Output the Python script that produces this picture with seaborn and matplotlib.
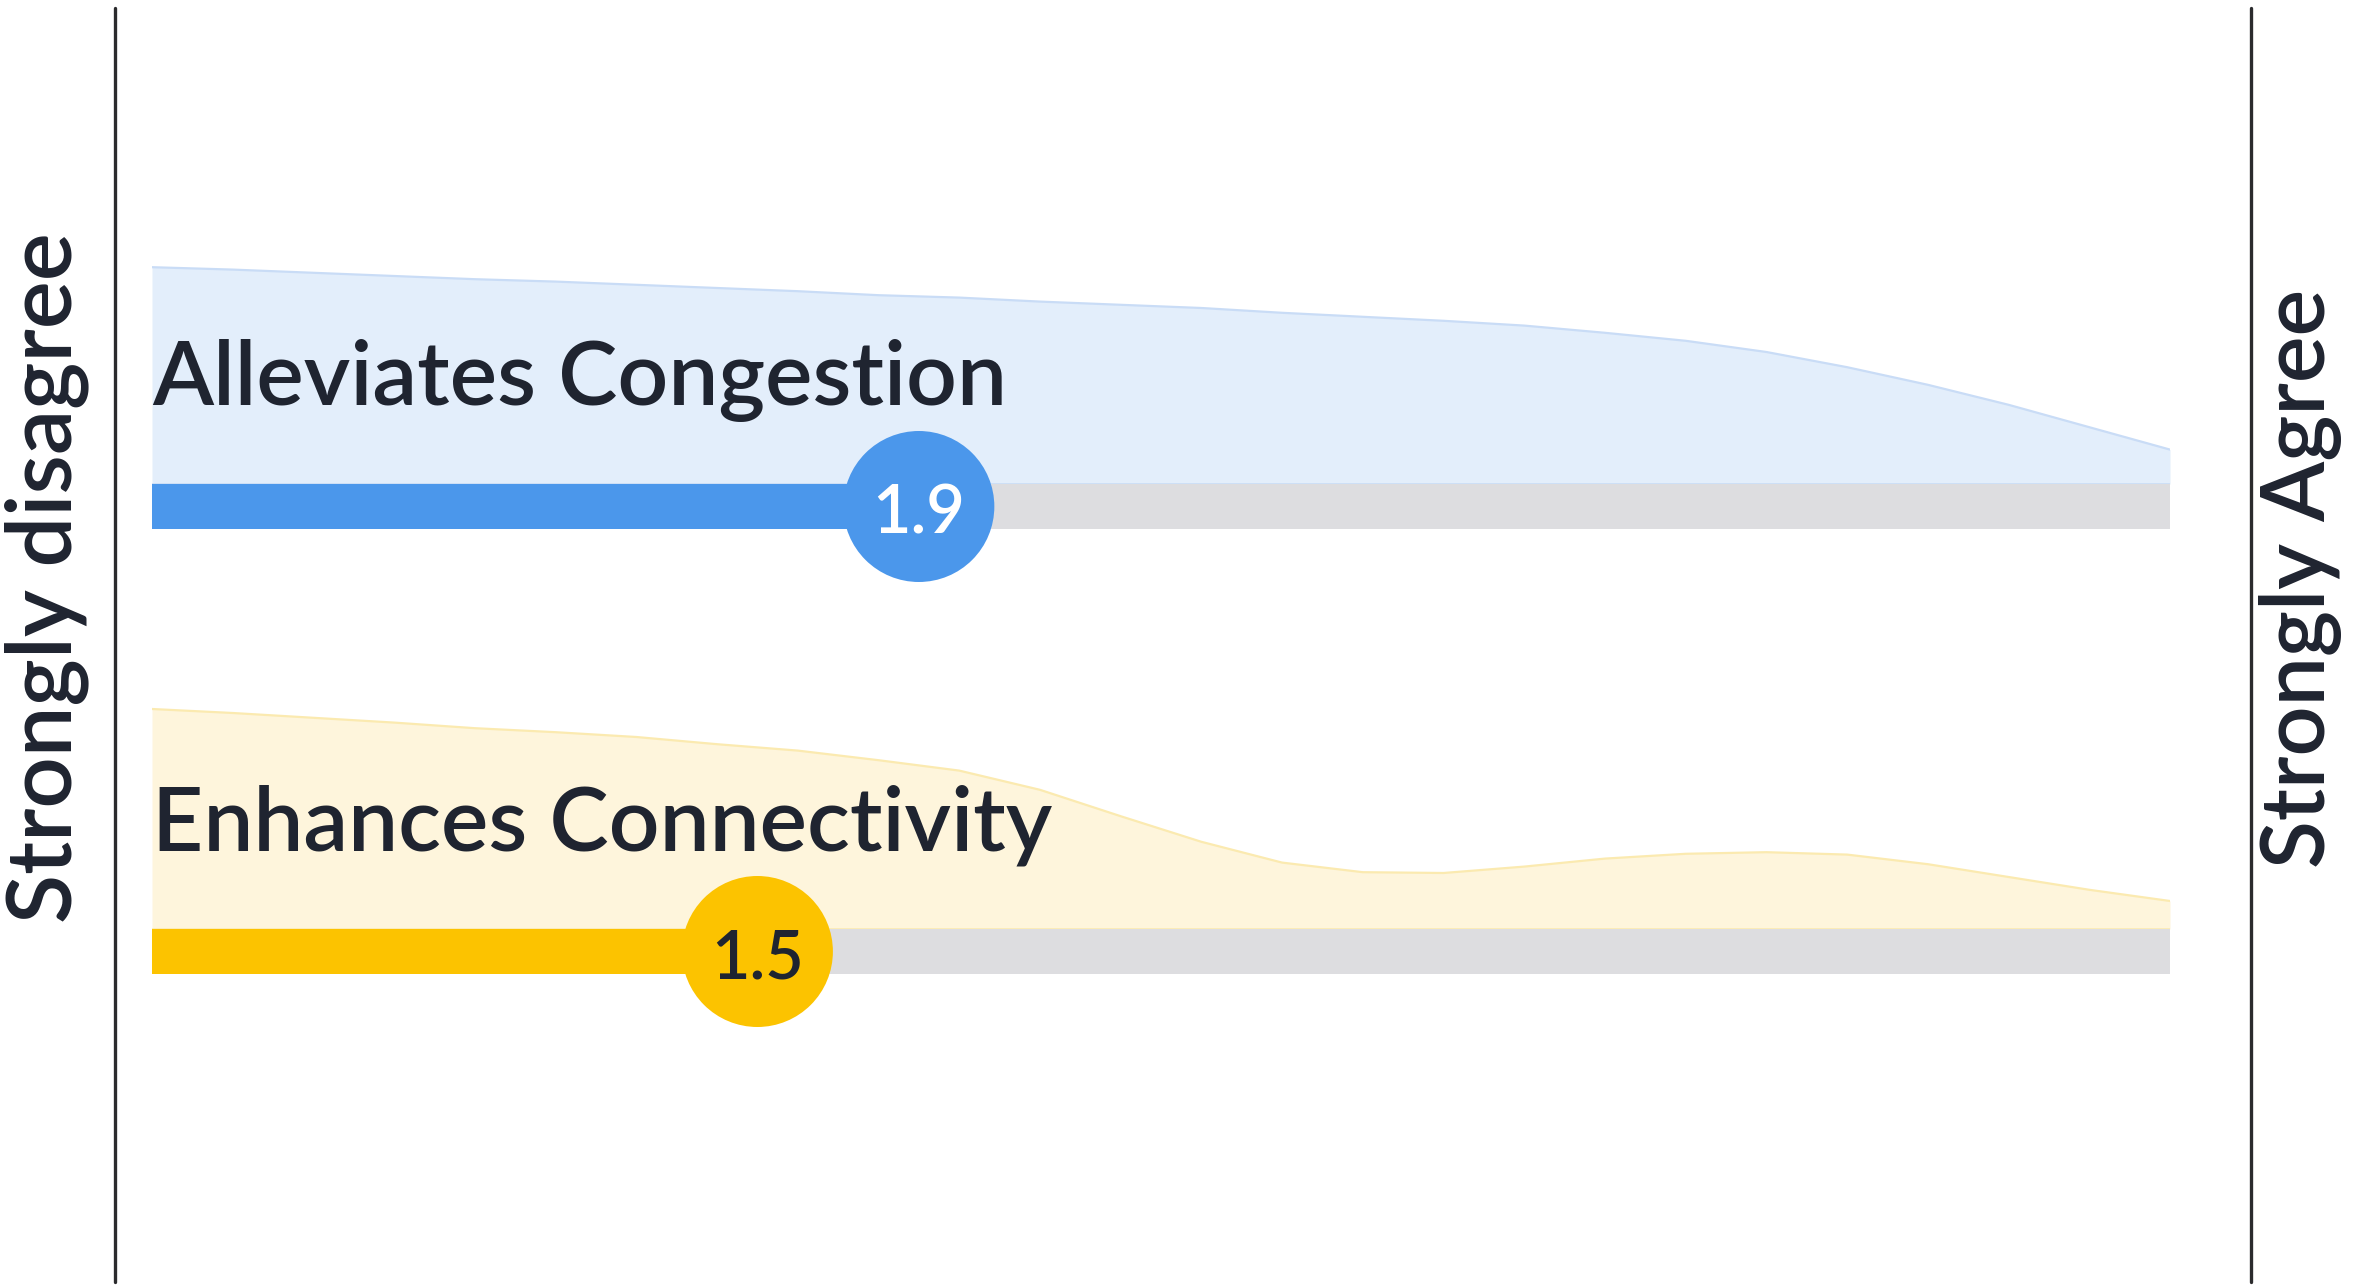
import numpy as np
import pandas as pd
import matplotlib
matplotlib.use("Agg")
import matplotlib.pyplot as plt
from matplotlib import font_manager
from matplotlib.lines import Line2D
import seaborn as sns

# ---------------- data ----------------
categories = ["Alleviates Congestion", "Enhances Connectivity"]
mean_scores = [1.9, 1.5]
score_labels = ["1.9", "1.5"]
scale_min, scale_max = 0, 5
left_label = "Strongly disagree"
right_label = "Strongly Agree"

# response-distribution curves (density, arbitrary units)
grid = [0.0, 0.2, 0.4, 0.6, 0.8, 1.0, 1.2, 1.4, 1.6, 1.8, 2.0, 2.2, 2.4,
        2.6, 2.8, 3.0, 3.2, 3.4, 3.6, 3.8, 4.0, 4.2, 4.4, 4.6, 4.8, 5.0]
density_congestion = [0.271, 0.268, 0.264, 0.260, 0.256, 0.253, 0.249, 0.245,
                      0.241, 0.236, 0.233, 0.228, 0.224, 0.220, 0.214, 0.209,
                      0.204, 0.198, 0.189, 0.179, 0.165, 0.146, 0.124, 0.099,
                      0.071, 0.043]
density_connectivity = [0.275, 0.270, 0.264, 0.258, 0.251, 0.246, 0.240, 0.231,
                        0.223, 0.211, 0.198, 0.174, 0.141, 0.109, 0.083, 0.071,
                        0.070, 0.078, 0.088, 0.094, 0.096, 0.093, 0.081, 0.065,
                        0.049, 0.035]
densities = [density_congestion, density_connectivity]

# ---------------- style ----------------
sns.set_theme(style="white")
available = {f.name for f in font_manager.fontManager.ttflist}
FONT = next((f for f in ["Lato", "Inter", "Open Sans", "Noto Sans", "DejaVu Sans"]
             if f in available), "DejaVu Sans")
plt.rcParams["font.family"] = [FONT, "DejaVu Sans"]

TEXT = "#1f2430"
LINE = "#2b2b2d"
GRAY = "#dddde0"
bar_colors = ["#4b97eb", "#fcc300"]
fill_colors = ["#e3eefb", "#fef5dc"]
edge_colors = ["#c9dcf6", "#fbeab0"]
num_colors = ["#ffffff", "#1f2430"]

W, H = 2356, 1288
fig = plt.figure(figsize=(W / 100, H / 100), dpi=100)
fig.patch.set_facecolor("white")
x0_px, x1_px = 152, 2170
ax = fig.add_axes([x0_px / W, 0, (x1_px - x0_px) / W, 1])

bar_top = [484, 929]      # pixel rows (y grows downward)
bar_h = 45
dens_scale = 800          # px per density unit
label_base = [405, 850]
circle_d_pt = 151 * 0.72

renderer = fig.canvas.get_renderer()


def fit(t, target_px):
    bb = t.get_window_extent(renderer)
    cur = max(bb.width, bb.height)
    t.set_fontsize(t.get_fontsize() * target_px / cur)


label_size = None
for i, cat in enumerate(categories):
    base = bar_top[i]
    yc = base + bar_h / 2
    dens = np.array(densities[i])
    top = base - dens * dens_scale
    ax.fill_between(grid, base, top, color=fill_colors[i], lw=0, zorder=1)
    sns.lineplot(x=grid, y=top, color=edge_colors[i], lw=1.6, ax=ax, zorder=1.5)
    ax.plot([scale_min, scale_max], [base, base], color=edge_colors[i], lw=1.2, zorder=1.5)
    # track + value bar
    ax.barh(yc, scale_max - scale_min, left=scale_min, height=bar_h,
            color=GRAY, lw=0, zorder=2)
    ax.barh(yc, mean_scores[i] - scale_min, left=scale_min, height=bar_h,
            color=bar_colors[i], lw=0, zorder=3)
    ax.scatter([mean_scores[i]], [yc], s=circle_d_pt ** 2, color=bar_colors[i],
               edgecolors="none", zorder=4, clip_on=False)
    ax.text(mean_scores[i], yc + 27, score_labels[i], ha="center",
            va="baseline", color=num_colors[i], fontsize=48,
            fontweight="semibold", zorder=5)
    lt = ax.text(scale_min, label_base[i], cat, ha="left", va="baseline",
                 color=TEXT, fontsize=58, fontweight="semibold", zorder=6)
    if label_size is None:
        fit(lt, 853)
        label_size = lt.get_fontsize()
    else:
        lt.set_fontsize(label_size)

ax.set_xlim(scale_min, scale_max)
ax.set_ylim(H, 0)
ax.axis("off")

# side rules
for xp in (115, 2251):
    fig.add_artist(Line2D([xp / W, xp / W], [1 - 8 / H, 1 - 1282 / H],
                          color=LINE, lw=2.4))

lt1 = fig.text(47 / W, 1 - 578 / H, left_label, rotation=90, ha="center",
               va="center", color=TEXT, fontsize=50, fontweight="semibold")
fit(lt1, 691)
lt2 = fig.text(2301 / W, 1 - 578 / H, right_label, rotation=90, ha="center",
               va="center", color=TEXT, fontsize=50, fontweight="semibold")
fit(lt2, 580)

fig.savefig("out.png", dpi=100, facecolor="white")
